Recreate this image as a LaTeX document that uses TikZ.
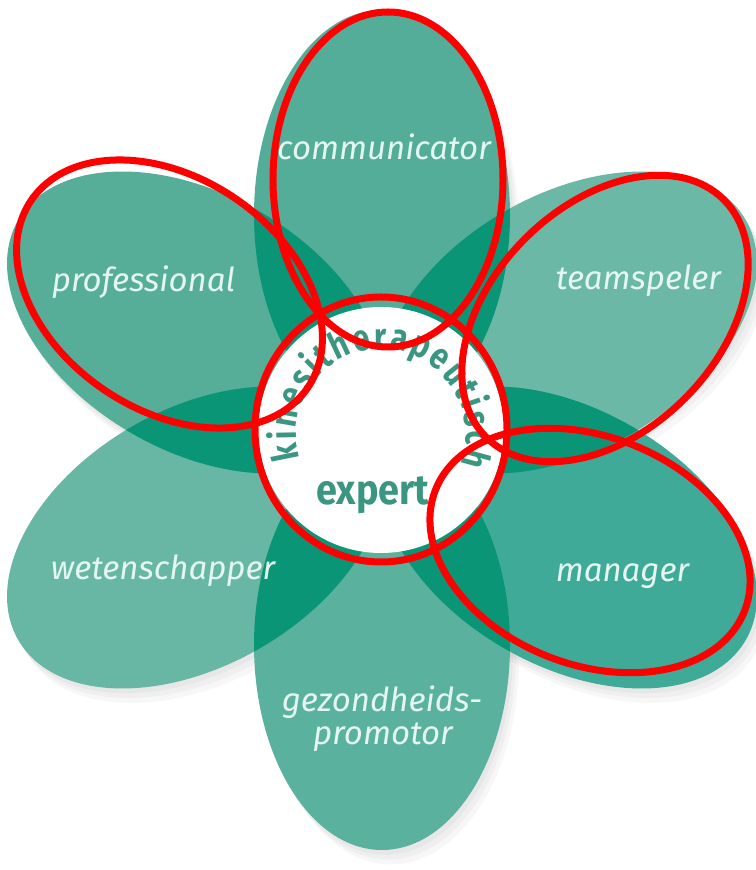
\documentclass[tikz,border=0pt]{standalone}
\usepackage{fontspec}
\setmainfont{Fira Sans}
\newfontfamily\lblfont{Fira Sans}
\newfontfamily\xfont[FakeStretch=0.9]{Fira Sans}
\newfontfamily\kfont[FakeStretch=0.82]{Fira Sans}
\usetikzlibrary{calc,decorations.text}
\definecolor{pComm}{RGB}{84,173,152}
\definecolor{pTeam}{RGB}{108,184,166}
\definecolor{pMan}{RGB}{62,170,151}
\definecolor{pGez}{RGB}{90,177,158}
\definecolor{pWet}{RGB}{104,182,164}
\definecolor{pProf}{RGB}{86,174,153}
\definecolor{pDark}{RGB}{10,150,118}
\definecolor{txtTeal}{RGB}{58,150,128}
\definecolor{lblc}{RGB}{228,246,240}
\begin{document}
\begin{tikzpicture}[x=1pt,y=1pt,
  lbl/.style={font=\lblfont\itshape\fontsize{33}{36}\selectfont, text=lblc, inner sep=0pt, anchor=base},
  ring/.style={draw=red, line width=7pt},
  petalshadow/.style={fill=black, fill opacity=0.03}]
\fill[white] (0,0) rectangle (755,870);
\useasboundingbox (0,0) rectangle (755,870);
\coordinate (C) at (382,440);
% soft shadow
\foreach \s in {3,6,9}
  \foreach \a in {90,30,-30,-90,-150,150}
    \fill[petalshadow] ($(C)+(\a:215pt)+(\s,-1.6*\s)$) circle [x radius=205pt, y radius=128pt, rotate=\a];
% petals
\foreach \a/\c in {90/pComm,30/pTeam,-30/pMan,-90/pGez,-150/pWet,150/pProf}
  \fill[\c] ($(C)+(\a:215pt)$) circle [x radius=205pt, y radius=128pt, rotate=\a];
% overlaps of neighbouring petals
\foreach \a/\b in {90/30,30/-30,-30/-90,-90/-150,-150/150,150/90}{
  \begin{scope}
    \clip ($(C)+(\a:215pt)$) circle [x radius=205pt, y radius=128pt, rotate=\a];
    \fill[pDark] ($(C)+(\b:215pt)$) circle [x radius=205pt, y radius=128pt, rotate=\b];
  \end{scope}}
% centre
\node[circle, fill=white, minimum size=246pt, inner sep=0pt] (hub) at (381,440) {};
\path[decorate, decoration={text along path, text color=txtTeal,
   text={|\kfont\bfseries\fontsize{37}{40}\selectfont|kinesitherapeutisch},
   text align={fit to path}}]
  (381,436) ++(197:85pt) arc [start angle=197, end angle=-21, radius=85pt];
\node[font=\xfont\bfseries\fontsize{42}{46}\selectfont, text=txtTeal, anchor=base, inner sep=0pt] (expert) at (373,365) {expert};
% labels
\node[lbl] (communicator) at (384,710) {communicator};
\node[lbl] (professional) at (143.5,578) {professional};
\node[lbl] (teamspeler) at (638.5,580) {teamspeler};
\node[lbl] (wetenschapper) at (163,290) {wetenschapper};
\node[lbl] (manager) at (622.5,288) {manager};
\node[lbl] (gez1) at (382,158) {gezondheids-};
\node[lbl] (gez2) at (383,125) {promotor};
% red outlines
\draw[ring] (388,690.5) circle [x radius=115pt, y radius=167.5pt];
\draw[ring] (169.5,576) circle [x radius=167pt, y radius=116pt, rotate=-34];
\draw[ring] (605,551.5) circle [x radius=168pt, y radius=113pt, rotate=45];
\draw[ring] (590,319.5) circle [x radius=166pt, y radius=114pt, rotate=-21.4];
\draw[ring] (381,440.5) circle [x radius=126pt, y radius=132.5pt];
\end{tikzpicture}
\end{document}
